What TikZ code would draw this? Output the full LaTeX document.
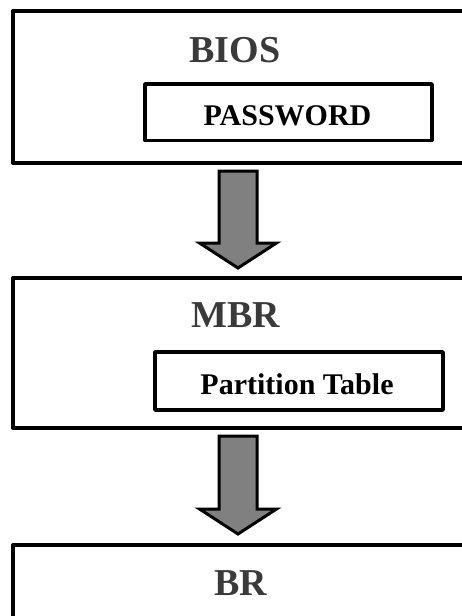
\documentclass[tikz,border=0pt]{standalone}
\usepackage{fontspec}
\setmainfont{Liberation Serif}
\usetikzlibrary{calc}
\definecolor{titlegray}{HTML}{3A3A3A}
\definecolor{arrowgray}{HTML}{808080}
\tikzset{
  outerbox/.style={draw=black, line width=4pt, fill=white, rectangle, anchor=north west, inner sep=0pt, outer sep=0pt, line join=round},
  innerbox/.style={draw=black, line width=3.6pt, fill=white, rectangle, anchor=north west, inner sep=0pt, outer sep=0pt, line join=round},
  title/.style={anchor=base, inner sep=0pt, text=titlegray, font=\bfseries\fontsize{38}{40}\selectfont},
  sublabel/.style={anchor=base, inner sep=0pt, text=black, font=\bfseries\fontsize{30}{32}\selectfont},
  bigarrow/.style={draw=black, fill=arrowgray, line width=3pt, line join=miter}
}
\begin{document}
\begin{tikzpicture}[x=1pt,y=-1pt]
\useasboundingbox (0,0) rectangle (462,616);
\clip (0,0) rectangle (462,616);
% boxes
\node[outerbox, minimum width=500pt, minimum height=152pt] (bios) at (13,11) {};
\node[innerbox, minimum width=287pt, minimum height=56.5pt] (pw) at (145,84) {};
\node[outerbox, minimum width=500pt, minimum height=150pt] (mbr) at (13,278) {};
\node[innerbox, minimum width=288pt, minimum height=58pt] (pt) at (155,352) {};
\node[outerbox, minimum width=500pt, minimum height=200pt] (br) at (13,545) {};
% labels
\node[title] (biost) at (235,62) {BIOS};
\node[sublabel] (pwt) at (287.5,125) {PASSWORD};
\node[title] (mbrt) at (236,327) {MBR};
\node[sublabel] (ptt) at (297,394) {Partition Table};
\node[title] (brt) at (241,595) {BR};
% arrows
\coordinate (a1top) at ($(bios.south west)+(225,8)$);
\coordinate (a1tip) at ($(mbr.north west)+(225,-10)$);
\coordinate (a2top) at ($(mbr.south west)+(225,8)$);
\coordinate (a2tip) at ($(br.north west)+(225,-11)$);
\draw[bigarrow] ($(a1top)+(-19,0)$) -- ($(a1top)+(19,0)$) -- ($(a1tip)+(19,-25)$) -- ($(a1tip)+(38.5,-25)$) -- (a1tip) -- ($(a1tip)+(-38.5,-25)$) -- ($(a1tip)+(-19,-25)$) -- cycle;
\draw[bigarrow] ($(a2top)+(-19,0)$) -- ($(a2top)+(19,0)$) -- ($(a2tip)+(19,-25)$) -- ($(a2tip)+(38.5,-25)$) -- (a2tip) -- ($(a2tip)+(-38.5,-25)$) -- ($(a2tip)+(-19,-25)$) -- cycle;
\end{tikzpicture}
\end{document}
